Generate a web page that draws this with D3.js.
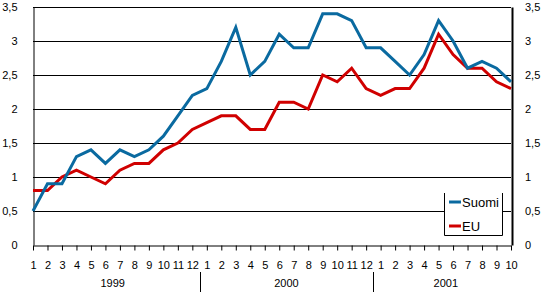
<!DOCTYPE html>
<html><head><meta charset="utf-8">
<script src="https://cdn.jsdelivr.net/npm/d3@7"></script>
<style>body{margin:0;background:#fff}svg{display:block;font-family:"Liberation Sans",Arial,sans-serif}</style>
</head><body><svg id="c" width="544" height="292"></svg>
<script>
const monthLabels = ["1","2","3","4","5","6","7","8","9","10","11","12","1","2","3","4","5","6","7","8","9","10","11","12","1","2","3","4","5","6","7","8","9","10"];
const years = ["1999","2000","2001"];
const yearStart = [0, 12, 24];
const yearEnd = [11, 23, 33];
const suomi = [0.5,0.9,0.9,1.3,1.4,1.2,1.4,1.3,1.4,1.6,1.9,2.2,2.3,2.7,3.2,2.5,2.7,3.1,2.9,2.9,3.4,3.4,3.3,2.9,2.9,2.7,2.5,2.8,3.3,3.0,2.6,2.7,2.6,2.4];
const eu =    [0.8,0.8,1.0,1.1,1.0,0.9,1.1,1.2,1.2,1.4,1.5,1.7,1.8,1.9,1.9,1.7,1.7,2.1,2.1,2.0,2.5,2.4,2.6,2.3,2.2,2.3,2.3,2.6,3.1,2.8,2.6,2.6,2.4,2.3];
const yTicks = [0,0.5,1,1.5,2,2.5,3,3.5];
const seriesNames = ["Suomi","EU"];
const colors = ["#0a6aa0","#d00000"];

const svg = d3.select("#c");
const L = 33, R = 511, T = 7, B = 245;
const x = d3.scaleLinear().domain([0, monthLabels.length-1]).range([L, R]);
const y = d3.scaleLinear().domain([0, 3.5]).range([B, T]);
const fmt = v => String(v).replace(".", ",");

// grid
svg.append("g").selectAll("line").data(yTicks.filter(d=>d>0)).join("line")
  .attr("x1", L).attr("x2", R).attr("y1", d=>y(d)+0.5).attr("y2", d=>y(d)+0.5)
  .attr("stroke","#000").attr("stroke-width",1);

// left axis
const yl = svg.append("g").attr("transform",`translate(${L+0.5},0)`)
  .call(d3.axisLeft(y).tickValues(yTicks).tickFormat(fmt).tickSize(0).tickPadding(16));
yl.select(".domain").attr("stroke","#000");
yl.selectAll("text").attr("font-size",11).attr("fill","#000").attr("dy","0.3em").attr("font-family","Liberation Sans, Arial, sans-serif");

// right axis
const yr = svg.append("g").attr("transform",`translate(${R+1},0)`)
  .call(d3.axisRight(y).tickValues(yTicks).tickFormat(fmt).tickSize(0).tickPadding(13));
yr.select(".domain").attr("stroke","#000").attr("stroke-width",2);
yr.selectAll("text").attr("font-size",11).attr("fill","#000").attr("dy","0.3em").attr("font-family","Liberation Sans, Arial, sans-serif");

// bottom axis
const xa = svg.append("g").attr("transform",`translate(0,${B+0.5})`)
  .call(d3.axisBottom(x).tickValues(d3.range(monthLabels.length)).tickFormat(i=>monthLabels[i]).tickSize(5).tickPadding(11).tickSizeOuter(0));
xa.select(".domain").attr("stroke","#000");
xa.selectAll("line").attr("stroke","#000");
xa.selectAll("text").attr("font-size",11).attr("fill","#000").attr("font-family","Liberation Sans, Arial, sans-serif");

// year separators
svg.append("g").selectAll("line").data([11.5, 23.5]).join("line")
  .attr("x1", d=>Math.round(x(d))+0.5).attr("x2", d=>Math.round(x(d))+0.5)
  .attr("y1", 272).attr("y2", 292).attr("stroke","#000");

// year labels
svg.append("g").selectAll("text").data(years).join("text")
  .attr("x", (d,i)=>x((yearStart[i]+yearEnd[i])/2)).attr("y", 287)
  .attr("text-anchor","middle").attr("font-size",11).text(d=>d);

// lines
const line = d3.line().x((d,i)=>x(i)).y(d=>y(d));
[eu, suomi].forEach((s, k) => {
  svg.append("path").datum(s).attr("d", line).attr("fill","none")
    .attr("stroke", k===0 ? colors[1] : colors[0]).attr("stroke-width",3)
    .attr("stroke-linejoin","miter");
});

// legend
const lg = svg.append("g");
lg.append("rect").attr("x",444).attr("y",193).attr("width",58).attr("height",42).attr("fill","#fff");
lg.append("path").attr("d","M444.5,193V235.5H502.5V193").attr("fill","none").attr("stroke","#000");
seriesNames.forEach((n,i)=>{
  const yy = 202 + i*24;
  lg.append("line").attr("x1",449).attr("x2",461).attr("y1",yy).attr("y2",yy)
    .attr("stroke",colors[i]).attr("stroke-width",3);
  lg.append("text").attr("x",462).attr("y",yy+5).attr("font-size",13).text(n);
});
</script></body></html>
